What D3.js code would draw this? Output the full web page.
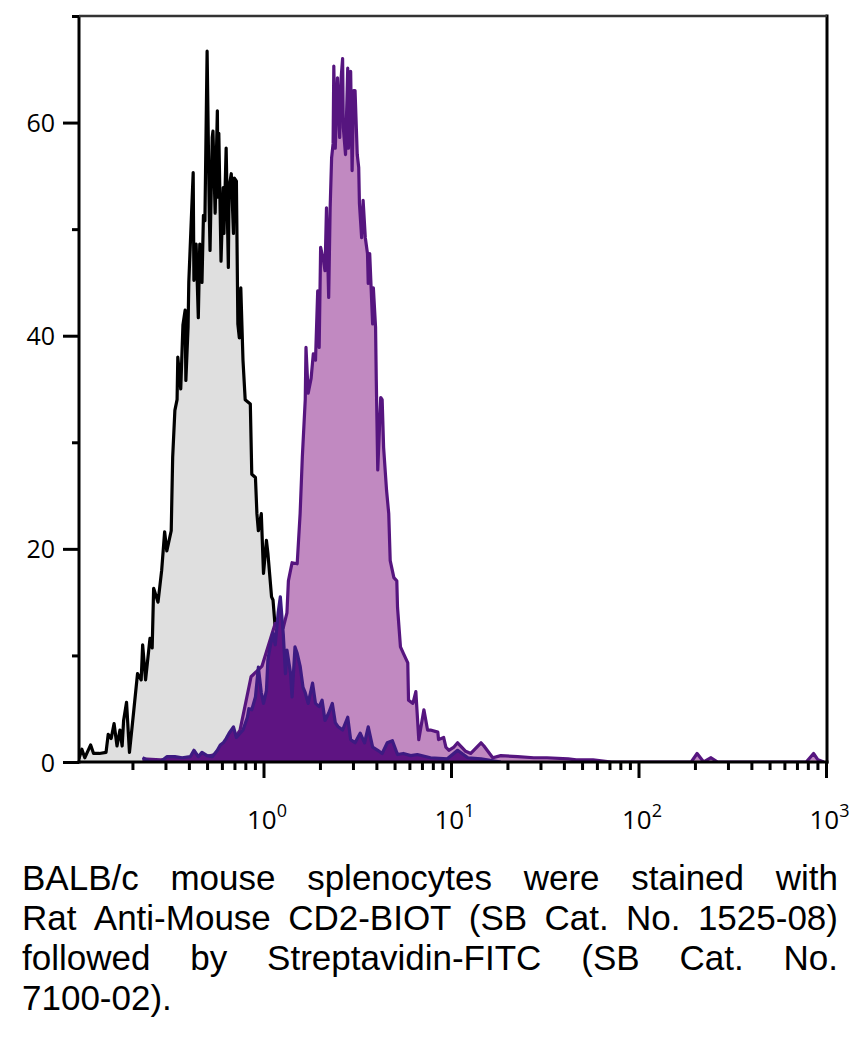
<!DOCTYPE html>
<html><head><meta charset="utf-8">
<script src="https://cdn.jsdelivr.net/npm/d3@7"></script>
<style>body{margin:0;background:#fff} svg{display:block}</style>
</head><body><svg id="c" width="855" height="1045"></svg>
<script>
// Histogram channels (1024 channels over 4 log decades) and event counts
const isoChannels = [4,8,12,16,20,24,32,41,44,48,52,56,60,63,65,69,73,79,84,89,91,95,101,104,106,112,117,121,124,130,132,135,138,139,143,146,149,150,153,154,160,161,164,167,169,172,174,176,179,182,183,186,187,190,193,194,195,198,201,202,205,208,209,212,215,216,219,221,223,225,228,231,238,240,245,247,249,253,256,260,262,267,269,272,276,282,289,295,303,313,327,340];
const isoCounts = [0.3,1.2,0.4,1.0,1.6,0.8,0.8,0.9,2.6,2.2,3.6,1.5,3.0,1.5,3.9,5.6,0.9,4.9,8.3,7.7,11,7.7,11.6,10.7,16.3,15,18,21.6,19.8,21.7,28.6,33,34,38,35,41,42.4,35.8,40.8,45,55.3,45.2,48.6,41.7,48.6,45,51.3,50.8,66.7,51.5,48,58.6,59.2,51.5,61.1,53,59,47,53.9,49.6,57.6,46.4,53.9,55.2,49.6,54.8,54.5,41.1,39.8,44.5,37.7,34,33.6,27,26.7,23.3,21.7,23.3,17.7,20.8,19.6,15.5,15.2,12.6,10,7,5,3,2,1,0.4,0];

const cd2Channels = [91,115,142,169,197,210,224,239,254,272,283,288,290,295,302,306,309,313,314,317,321,324,327,330,332,334,338,340,342,345,347,349,351,352,354,357,360,362,364,365,368,371,372,375,377,379,381,384,386,387,390,392,395,398,399,401,405,406,409,410,412,416,418,420,424,427,429,434,438,439,443,447,453,454,460,464,468,475,480,484,494,495,502,505,509,516,521,532,539,553,557,569,580,603,625,643,672,683,706,731,840,848,857,867,876,997,1007,1013,1021];
const cd2Counts = [0.3,0.2,0.3,0.4,0.8,1.5,3,8,9,13,12.6,14,17,18.7,18.6,23.3,28.6,34,38.9,34.6,36,38.3,37.7,44.2,38.9,48.3,47,46.1,52,43.6,52,56.7,58,65.3,57.6,64.2,58.6,64.2,66,59.5,57,65.1,57.6,64.8,55.5,63,63,57,55.8,52.4,49.2,52.7,49.2,47.7,44.9,47.7,41.1,44.5,40.8,35.8,27.4,34.2,34,29.5,25.5,23.3,18.9,17.3,17,14.5,10.8,10.2,9.3,5.8,5.5,6.6,2.1,4.9,3,3,2.8,2.1,2.3,1.4,1.1,1.4,1.8,1.0,0.8,1.8,1.5,0.4,0.6,0.5,0.4,0.4,0.3,0.2,0.2,0,0,0.8,0,0.4,0,0,0.8,0.2,0];

const ctrlChannels = [91,101,115,124,135,145,156,161,167,172,179,186,193,197,201,205,209,215,219,224,228,234,236,240,245,249,253,256,260,262,265,269,272,276,279,283,286,288,293,295,299,302,306,310,313,317,323,327,332,336,340,345,350,354,358,364,371,375,381,388,394,399,405,412,418,425,432,439,447,457,466,484,507,521,535,553,580];
const ctrlCounts = [0.4,0,0,0.5,0.5,0.4,0.5,1.1,0.5,0.9,0.6,0.5,1.1,1.6,1.8,2.2,2.7,3.3,2.3,2.7,3,4.2,5,4.9,6.1,8.9,6.5,5.5,6.7,9.6,10.8,12.1,11,14,15.5,12,8.3,10.5,8.3,6.1,10.8,10.2,9,7,6.5,5.5,7.4,5.5,5.2,5.8,3.9,4.6,5.5,3.7,3.3,3,4.2,2.1,1.8,2.7,1.8,3.3,1.4,1.1,0.8,1.8,2,0.7,0.8,0.6,0.7,0.4,0.3,1.1,0.4,0.3,0];

const yMajorTicks = [0,20,40,60];
const yMinorTicks = [10,30,50,70];
const xDecadeExponents = [0,1,2,3];
const caption = [
  "BALB/c mouse splenocytes were stained with",
  "Rat Anti-Mouse CD2-BIOT (SB Cat. No. 1525-08)",
  "followed by Streptavidin-FITC (SB Cat. No.",
  "7100-02)."
];

const FONT = "'Open Sans', 'Liberation Sans', Arial, sans-serif";
const CAPFONT = "'Liberation Sans', Arial, sans-serif";
const chToValue = ch => Math.pow(10, ch / 256 - 1);
const zip = (cs, ns) => cs.map((c, i) => ({v: chToValue(c), n: ns[i]}));

const svg = d3.select("#c");
const L = 79, R = 827, T = 16, B = 762;
const x = d3.scaleLog().domain([0.1, 1000]).range([76, 826]);
const y = d3.scaleLinear().domain([0, 70]).range([B, T]);

svg.append("defs").append("clipPath").attr("id", "clip")
  .append("rect").attr("x", L).attr("y", T).attr("width", R - L).attr("height", B - T);

const plot = svg.append("g").attr("clip-path", "url(#clip)");
const area = d3.area().x(d => x(d.v)).y0(y(0)).y1(d => y(d.n));
const line = d3.line().x(d => x(d.v)).y(d => y(d.n));

const series = [
  {data: zip(isoChannels, isoCounts), fill: "#dfdfdf", stroke: "#000000"},
  {data: zip(cd2Channels, cd2Counts), fill: "#c189c1", stroke: "#56157f"},
  {data: zip(ctrlChannels, ctrlCounts), fill: "#5e1482", stroke: "#3d1a82"}
];
series.forEach(s => {
  plot.append("path").datum(s.data).attr("d", area).attr("fill", s.fill);
  plot.append("path").datum(s.data).attr("d", line).attr("fill", "none")
    .attr("stroke", s.stroke).attr("stroke-width", 3.2).attr("stroke-linejoin", "round");
});

// Y axis
const yMaj = svg.append("g").attr("transform", `translate(${L},0)`)
  .call(d3.axisLeft(y).tickValues(yMajorTicks).tickSize(16).tickSizeOuter(0).tickPadding(8).tickFormat(d3.format("d")));
const yMin = svg.append("g").attr("transform", `translate(${L},0)`)
  .call(d3.axisLeft(y).tickValues(yMinorTicks).tickSize(7).tickSizeOuter(0).tickFormat(""));
[yMaj, yMin].forEach(g => {
  g.select(".domain").remove();
  g.selectAll(".tick line").attr("stroke", "#000").attr("stroke-width", 3);
});
yMaj.selectAll(".tick text").attr("fill", "#000").attr("dy", "0.36em")
  .style("font-family", FONT).style("font-size", "25px");

// X axis
const xMinorVals = [];
[-1, 0, 1, 2].forEach(e => { for (let m = 2; m <= 9; m++) xMinorVals.push(m * Math.pow(10, e)); });
const xMaj = svg.append("g").attr("transform", `translate(0,${B})`)
  .call(d3.axisBottom(x).tickValues(xDecadeExponents.map(e => Math.pow(10, e))).tickSize(16).tickSizeOuter(0).tickFormat(""));
const xMin = svg.append("g").attr("transform", `translate(0,${B})`)
  .call(d3.axisBottom(x).tickValues(xMinorVals).tickSize(8).tickSizeOuter(0).tickFormat(""));
[xMaj, xMin].forEach(g => {
  g.select(".domain").remove();
  g.selectAll(".tick line").attr("stroke", "#000").attr("stroke-width", 3);
});
xMaj.selectAll(".tick text").each(function(d) {
  const t = d3.select(this);
  t.attr("y", 67).attr("dy", null).attr("x", 3).attr("text-anchor", "middle").attr("fill", "#000")
    .style("font-family", FONT).style("font-size", "26px");
  t.text(null);
  t.append("tspan").text("10");
  t.append("tspan").attr("dy", -12).style("font-size", "18px").text(String(Math.round(Math.log10(d))));
});

// Frame
const frame = svg.append("g").attr("stroke", "#000").attr("stroke-width", 3).attr("fill", "none");
frame.append("line").attr("x1", L).attr("x2", L).attr("y1", T - 1).attr("y2", B + 1.5);
frame.append("line").attr("x1", L - 1.5).attr("x2", R + 1.5).attr("y1", B).attr("y2", B);
frame.append("line").attr("x1", R).attr("x2", R).attr("y1", T - 1.5).attr("y2", B + 1.5);
frame.append("line").attr("x1", L).attr("x2", R).attr("y1", T).attr("y2", T).attr("stroke", "#333").attr("stroke-width", 2.5);

// Caption (justified)
const capLeft = 22, capRight = 838, capFont = 35, capBase = 890, capLead = 40;
const capOuter = svg.append("g").attr("transform", `translate(${capLeft},0)`);
const cap = capOuter.append("g").style("font-family", CAPFONT)
  .style("font-size", capFont + "px").attr("fill", "#000");
const lines = caption.map((ln, li) => {
  const words = ln.split(" ");
  const t = cap.append("text").attr("y", capBase + li * capLead);
  const spans = words.map(w => t.append("tspan").text(w));
  const widths = spans.map(s => s.node().getComputedTextLength());
  return {words, spans, widths};
});
const spaceW = capFont * 0.278;
const natural = lines.map(l => d3.sum(l.widths) + spaceW * (l.words.length - 1));
const sx = Math.min(1, (capRight - capLeft - 4) / d3.max(natural));
cap.attr("transform", `scale(${sx},1)`);
const avail = (capRight - capLeft) / sx;
lines.forEach((l, li) => {
  const last = li === lines.length - 1;
  const total = d3.sum(l.widths);
  const gap = (last || l.words.length < 2) ? spaceW : (avail - total) / (l.words.length - 1);
  let cx = 0;
  l.spans.forEach((s, i) => { s.attr("x", cx); cx += l.widths[i] + gap; });
});
</script>
</body></html>
